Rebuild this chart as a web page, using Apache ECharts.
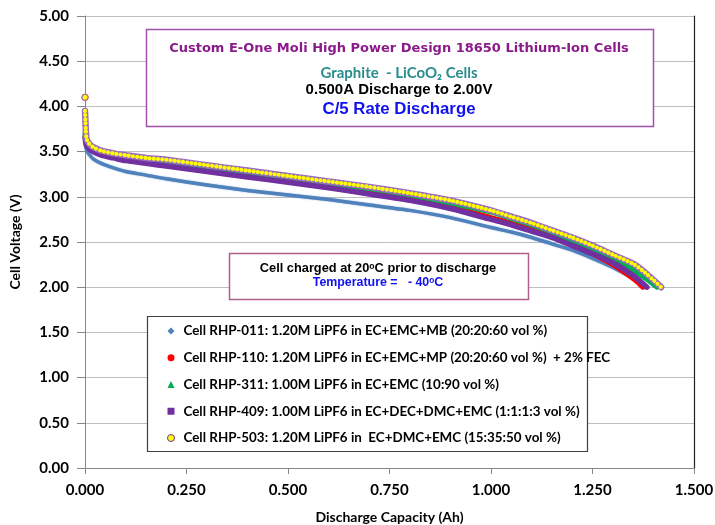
<!DOCTYPE html>
<html>
<head>
<meta charset="utf-8">
<script src="https://cdn.jsdelivr.net/npm/echarts@6/dist/echarts.min.js"></script>
<style>
  html, body { margin: 0; padding: 0; background: #fff; }
  #chart { width: 715px; height: 525px; }
</style>
</head>
<body>
<div id="chart"></div>
<script>
// Discharge curves at -40 °C, C/5 rate, five electrolyte variants
const names = [
  'Cell RHP-011: 1.20M LiPF6 in EC+EMC+MB (20:20:60 vol %)',
  'Cell RHP-110: 1.20M LiPF6 in EC+EMC+MP (20:20:60 vol %)  + 2% FEC',
  'Cell RHP-311: 1.00M LiPF6 in EC+EMC (10:90 vol %)',
  'Cell RHP-409: 1.00M LiPF6 in EC+DEC+DMC+EMC (1:1:1:3 vol %)',
  'Cell RHP-503: 1.20M LiPF6 in  EC+DMC+EMC (15:35:50 vol %)'
];

const cap011 = [0, 0.002, 0.005, 0.01, 0.02, 0.04, 0.07, 0.1, 0.15, 0.2, 0.3, 0.4, 0.5, 0.6, 0.7, 0.8, 0.9, 1.0, 1.05, 1.1, 1.15, 1.2, 1.25, 1.3, 1.35, 1.385];
const v011   = [3.60, 3.55, 3.51, 3.47, 3.42, 3.37, 3.32, 3.28, 3.24, 3.20, 3.13, 3.07, 3.02, 2.97, 2.91, 2.85, 2.77, 2.66, 2.61, 2.55, 2.48, 2.41, 2.32, 2.22, 2.10, 2.00];

const cap110 = [0, 0, 0, 0.002, 0.005, 0.01, 0.02, 0.04, 0.07, 0.1, 0.15, 0.2, 0.3, 0.4, 0.5, 0.6, 0.7, 0.8, 0.9, 1.0, 1.05, 1.1, 1.15, 1.2, 1.25, 1.3, 1.33, 1.36, 1.374];
const v110   = [4.10, null, 3.94, 3.70, 3.60, 3.55, 3.51, 3.47, 3.44, 3.42, 3.40, 3.37, 3.31, 3.24, 3.17, 3.11, 3.05, 2.98, 2.89, 2.77, 2.71, 2.64, 2.57, 2.48, 2.37, 2.25, 2.16, 2.06, 2.00];

const cap311 = [0, 0.002, 0.005, 0.01, 0.02, 0.04, 0.07, 0.1, 0.15, 0.2, 0.3, 0.4, 0.5, 0.6, 0.7, 0.8, 0.9, 1.0, 1.05, 1.1, 1.15, 1.2, 1.25, 1.3, 1.35, 1.38, 1.409];
const v311   = [3.70, 3.62, 3.58, 3.55, 3.52, 3.49, 3.46, 3.44, 3.41, 3.39, 3.33, 3.27, 3.21, 3.15, 3.09, 3.02, 2.93, 2.83, 2.76, 2.69, 2.61, 2.52, 2.43, 2.32, 2.19, 2.10, 2.00];

const cap409 = [0, 0.002, 0.005, 0.01, 0.02, 0.04, 0.07, 0.1, 0.15, 0.2, 0.3, 0.4, 0.5, 0.6, 0.7, 0.8, 0.9, 1.0, 1.05, 1.1, 1.15, 1.2, 1.25, 1.3, 1.35, 1.384];
const v409   = [3.66, 3.60, 3.56, 3.53, 3.50, 3.46, 3.43, 3.40, 3.37, 3.34, 3.28, 3.22, 3.16, 3.10, 3.03, 2.96, 2.87, 2.75, 2.69, 2.62, 2.55, 2.46, 2.37, 2.27, 2.13, 2.00];

const cap503 = [0, 0, 0, 0.001, 0.002, 0.004, 0.01, 0.02, 0.04, 0.07, 0.1, 0.15, 0.2, 0.3, 0.4, 0.5, 0.6, 0.7, 0.8, 0.9, 1.0, 1.05, 1.1, 1.15, 1.2, 1.25, 1.3, 1.35, 1.38, 1.40, 1.419];
const v503   = [4.10, null, 3.95, 3.85, 3.74, 3.64, 3.59, 3.55, 3.51, 3.48, 3.46, 3.43, 3.41, 3.35, 3.29, 3.23, 3.17, 3.11, 3.04, 2.96, 2.85, 2.78, 2.71, 2.63, 2.55, 2.46, 2.36, 2.26, 2.16, 2.08, 2.00];

const xTicks = { min: 0, max: 1.5, step: 0.25 };
const yTicks = { min: 0, max: 5, step: 0.5 };

const colors = ['#4F81BD', '#FF0000', '#00B050', '#7030A0', '#FFFF00'];
const pair = (xs, ys) => xs.map((x, i) => [x, ys[i] === null ? '-' : ys[i]]);
// a lone reading (no neighbour to join) still gets a marker
const loneMarker = size => (val, p) => (p.dataIndex === 0 ? size : 0);

const AXIS_FONT = 'Lato, "Open Sans", sans-serif';

const chart = echarts.init(document.getElementById('chart'), null, { renderer: 'canvas' });

const lineSeries = (idx, data, width, extra) => Object.assign({
  name: names[idx],
  type: 'line',
  data: data,
  smooth: 0.25,
  showSymbol: false,
  symbol: 'none',
  connectNulls: false,
  lineStyle: { color: colors[idx], width: width, cap: 'round', join: 'round' },
  itemStyle: { color: colors[idx] },
  emphasis: { disabled: true },
  z: 3 + idx
}, extra || {});

const data503 = pair(cap503, v503);

const option = {
  animation: false,
  backgroundColor: '#ffffff',
  grid: { left: 85, right: 21, top: 16, bottom: 57, show: false, containLabel: false, outerBoundsMode: 'none' },
  xAxis: {
    type: 'value',
    min: xTicks.min, max: xTicks.max, interval: xTicks.step,
    name: 'Discharge Capacity (Ah)',
    nameLocation: 'middle',
    nameGap: 42,
    nameTextStyle: { fontFamily: AXIS_FONT, fontWeight: 'bold', fontSize: 14, color: '#000' },
    axisLine: { show: true, onZero: false, lineStyle: { color: '#868686', width: 1 } },
    axisTick: { show: true, length: 6, lineStyle: { color: '#868686' } },
    axisLabel: {
      fontFamily: AXIS_FONT, fontWeight: 'bold', fontSize: 15, color: '#000', margin: 15,
      formatter: v => v.toFixed(3)
    },
    splitLine: { show: false }
  },
  yAxis: [{
    type: 'value',
    min: yTicks.min, max: yTicks.max, interval: yTicks.step,
    name: 'Cell Voltage (V)',
    nameLocation: 'middle',
    nameRotate: 90,
    nameGap: 63,
    nameTextStyle: { fontFamily: AXIS_FONT, fontWeight: 'bold', fontSize: 14, color: '#000' },
    axisLine: { show: true, lineStyle: { color: '#868686', width: 1 } },
    axisTick: { show: true, length: 8, lineStyle: { color: '#868686' } },
    axisLabel: {
      fontFamily: AXIS_FONT, fontWeight: 'bold', fontSize: 15, color: '#000', margin: 16,
      formatter: v => v.toFixed(2)
    },
    splitLine: { show: true, lineStyle: { color: '#BEBEBE', width: 1 } }
  }, {
    type: 'value',
    position: 'right',
    min: yTicks.min, max: yTicks.max, interval: yTicks.step,
    axisLine: { show: true, lineStyle: { color: '#222', width: 1.2 } },
    axisTick: { show: false },
    axisLabel: { show: false },
    splitLine: { show: false }
  }],
  legend: {
    orient: 'vertical',
    left: 167,
    top: 323,
    padding: 0,
    itemGap: 10.75,
    itemWidth: 7,
    itemHeight: 7,
    z: 20,
    selectedMode: false,
    textStyle: { fontFamily: AXIS_FONT, fontWeight: 'bold', fontSize: 13.4, color: '#000', lineHeight: 16, padding: [0, 0, 0, 4] },
    data: [
      { name: names[0], icon: 'diamond', itemStyle: { color: colors[0] } },
      { name: names[1], icon: 'circle', itemStyle: { color: colors[1] } },
      { name: names[2], icon: 'triangle', itemStyle: { color: colors[2] } },
      { name: names[3], icon: 'rect', itemStyle: { color: colors[3] } },
      { name: names[4], icon: 'circle', itemStyle: { color: '#FFFF00', borderColor: '#7030A0', borderWidth: 1 } }
    ]
  },
  graphic: [
    // heading box
    { type: 'rect', z: 15, shape: { x: 146.5, y: 29.5, width: 507, height: 97 },
      style: { fill: '#fff', stroke: '#A050A8', lineWidth: 1.5 } },
    { type: 'text', z: 16, x: 399, y: 49,
      style: { text: 'Custom E-One Moli High Power Design 18650 Lithium-Ion Cells',
        font: 'bold 13px "DejaVu Sans", sans-serif', fill: '#8B1A8B',
        align: 'center', verticalAlign: 'middle', textAlign: 'center', textVerticalAlign: 'middle' } },
    { type: 'text', z: 16, x: 399, y: 73,
      style: { text: 'Graphite  - LiCoO\u2082 Cells',
        font: 'bold 15px Lato, sans-serif', fill: '#2A8C8C',
        align: 'center', verticalAlign: 'middle', textAlign: 'center', textVerticalAlign: 'middle' } },
    { type: 'text', z: 16, x: 399, y: 90,
      style: { text: '0.500A Discharge to 2.00V',
        font: 'bold 15px "Liberation Sans", Arial, sans-serif', fill: '#000',
        align: 'center', verticalAlign: 'middle', textAlign: 'center', textVerticalAlign: 'middle' } },
    { type: 'text', z: 16, x: 399, y: 109,
      style: { text: 'C/5 Rate Discharge',
        font: 'bold 16.8px "Liberation Sans", Arial, sans-serif', fill: '#1010F0',
        align: 'center', verticalAlign: 'middle', textAlign: 'center', textVerticalAlign: 'middle' } },

    // test-condition box
    { type: 'rect', z: 15, shape: { x: 229.5, y: 253.5, width: 299, height: 46 },
      style: { fill: '#fff', stroke: '#B0608F', lineWidth: 1.5 } },
    { type: 'text', z: 16, x: 378, y: 268,
      style: { text: 'Cell charged at 20\u1D52C prior to discharge',
        font: 'bold 12.8px "Liberation Sans", Arial, sans-serif', fill: '#000',
        align: 'center', verticalAlign: 'middle', textAlign: 'center', textVerticalAlign: 'middle' } },
    { type: 'text', z: 16, x: 378, y: 283,
      style: { text: 'Temperature =   - 40\u1D52C',
        font: 'bold 12.4px "Liberation Sans", Arial, sans-serif', fill: '#1010F0',
        align: 'center', verticalAlign: 'middle', textAlign: 'center', textVerticalAlign: 'middle' } },

    // legend frame
    { type: 'rect', z: 15, shape: { x: 147.5, y: 316.5, width: 440, height: 135 },
      style: { fill: '#fff', stroke: '#404040', lineWidth: 1.2 } }
  ],
  series: [
    lineSeries(0, pair(cap011, v011), 3.5, {
      lineStyle: { color: colors[0], width: 3.5, cap: 'round', join: 'round', shadowColor: 'rgba(79,129,189,0.7)', shadowBlur: 1.5 }
    }),
    lineSeries(1, pair(cap110, v110), 5, {
      showSymbol: true, showAllSymbol: true, symbol: 'circle', symbolSize: loneMarker(7)
    }),
    lineSeries(2, pair(cap311, v311), 5),
    lineSeries(3, pair(cap409, v409), 5.5),
    // purple rim under the yellow bead chain of RHP-503
    {
      type: 'line',
      data: data503,
      smooth: 0.25,
      showSymbol: false,
      symbol: 'none',
      connectNulls: false,
      silent: true,
      lineStyle: { color: '#9A6CC0', width: 6.5, cap: 'round', join: 'round' },
      emphasis: { disabled: true },
      z: 7
    },
    {
      name: names[4],
      type: 'line',
      data: data503,
      smooth: 0.25,
      showSymbol: true,
      showAllSymbol: true,
      symbol: 'circle',
      symbolSize: loneMarker(6),
      connectNulls: false,
      itemStyle: { color: '#FFFF00', borderColor: '#9A6CC0', borderWidth: 1 },
      lineStyle: { color: '#FFFF00', width: 4.2, type: [0, 4.2], cap: 'round' },
      emphasis: { disabled: true },
      z: 8
    }
  ]
};

chart.setOption(option);
</script>
</body>
</html>
